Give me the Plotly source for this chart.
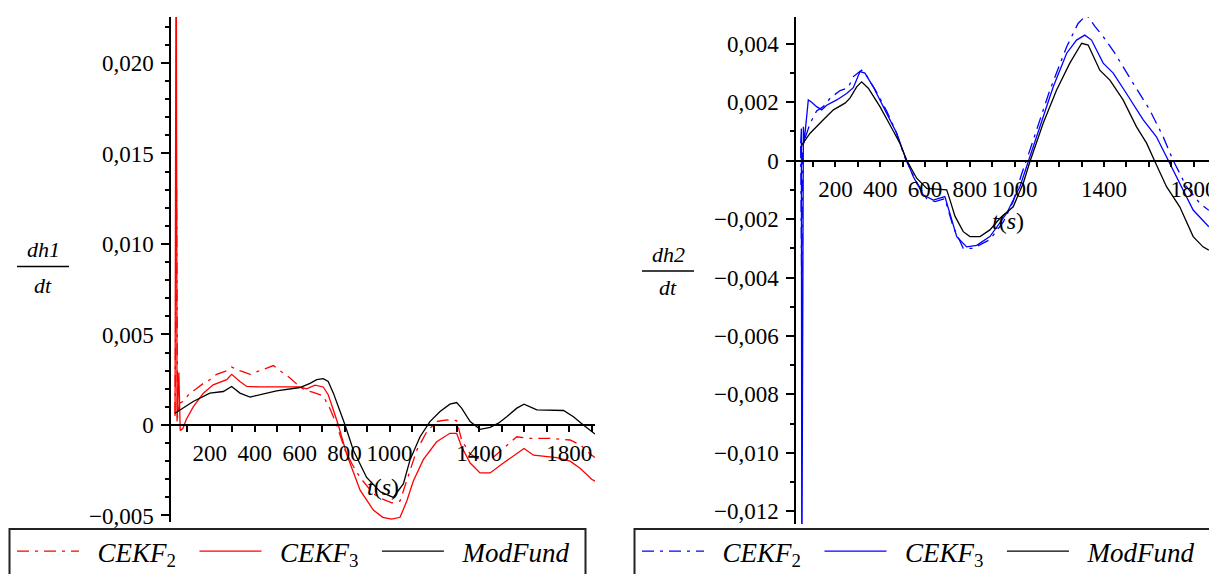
import plotly.graph_objects as go

W, H = 1209, 574

# ---------------- data: left panel (dh1/dt) ----------------
l_t_cekf2 = [45, 52, 56, 65, 80, 111, 140, 171, 200, 230, 275, 297, 334, 379, 423, 483, 512, 557, 601, 631,
             661, 705, 735, 765, 802, 835, 869, 900, 928, 970, 1010, 1047, 1077, 1121, 1166, 1210, 1255, 1299,
             1321, 1359, 1400, 1433, 1470, 1507, 1567, 1626, 1716, 1804, 1850, 1893, 1915]
l_v_cekf2 = [0.0006, 0.0130, 0.0004, 0.0012, 0.0013, 0.00176, 0.0020, 0.0023, 0.0025, 0.0028, 0.0030, 0.0032,
             0.0030, 0.0028, 0.0030, 0.00328, 0.0030, 0.0026, 0.0021, 0.0019, 0.0018, 0.0016, 0.0009, 0.0000,
             -0.0014, -0.0022, -0.0029, -0.0034, -0.0038, -0.0041, -0.0043, -0.0042, -0.0031, -0.0014, -0.00037,
             0.00019, 0.00028, 0.00024, -0.00083, -0.0016, -0.0019, -0.0020, -0.0017, -0.0013, -0.00065,
             -0.00074, -0.00074, -0.00083, -0.0011, -0.0016, -0.0018]

l_t_cekf3 = [45, 50, 54, 62, 68, 80, 95, 126, 171, 215, 275, 297, 334, 364, 420, 500, 601, 631, 668, 705, 727,
             750, 772, 809, 869, 928, 970, 1010, 1047, 1077, 1106, 1151, 1210, 1269, 1299, 1321, 1359, 1403,
             1448, 1507, 1567, 1599, 1641, 1745, 1804, 1850, 1900, 1915]
l_v_cekf3 = [0.0005, 0.0300, 0.0002, 0.0029, -0.0003, -0.0002, 0.0003, 0.0010, 0.00176, 0.00222, 0.0025,
             0.0028, 0.0024, 0.00213, 0.0021, 0.0021, 0.0021, 0.0020, 0.0022, 0.0021, 0.00167, 0.00083, 0.0,
             -0.0016, -0.0036, -0.0047, -0.0051, -0.0052, -0.0051, -0.0042, -0.0031, -0.0019, -0.00093,
             -0.00046, -0.00046, -0.0012, -0.0021, -0.00265, -0.00265, -0.0021, -0.0016, -0.0013, -0.00167,
             -0.0018, -0.0020, -0.0024, -0.0030, -0.0031]

l_t_mod = [45, 126, 200, 260, 297, 334, 379, 423, 497, 601, 646, 676, 705, 727, 750, 780, 802, 839, 898, 960,
           1017, 1062, 1091, 1136, 1180, 1225, 1269, 1299, 1321, 1359, 1403, 1448, 1485, 1522, 1567, 1599, 1656,
           1775, 1819, 1863, 1900, 1915]
l_v_mod = [0.00065, 0.0013, 0.00176, 0.00185, 0.00213, 0.00176, 0.00154, 0.00167, 0.00189, 0.00207, 0.0023,
           0.0025, 0.00256, 0.0024, 0.00176, 0.00074, 0.0, -0.0014, -0.0029, -0.0037, -0.0040, -0.00324,
           -0.00194, -0.00065, 0.00019, 0.00074, 0.00115, 0.00124, 0.00093, 0.00019, -0.00024, -0.00013,
           0.0001, 0.00046, 0.00093, 0.00115, 0.00083, 0.0008, 0.00046, 0.0, -0.00037, -0.0005]

# ---------------- data: right panel (dh2/dt) ----------------
r_t_cekf2 = [45, 50, 53, 57, 87, 116, 146, 176, 221, 257, 280, 317, 340, 380, 429, 470, 511, 560, 608, 645,
             689, 726, 771, 816, 890, 950, 994, 1030, 1069, 1110, 1158, 1233, 1284, 1322, 1359, 1396, 1448,
             1530, 1604, 1664, 1708, 1768, 1828, 1868]
r_v_cekf2 = [0.0005, -0.0049, 0.0003, 0.0006, 0.00128, 0.0017, 0.00185, 0.00214, 0.0024, 0.0025, 0.00288,
             0.0031, 0.0029, 0.0024, 0.0017, 0.0010, 0.0001, -0.0007, -0.0013, -0.0014, -0.0013, -0.00226,
             -0.0030, -0.0030, -0.0027, -0.0021, -0.0014, -0.0005, 0.00037, 0.0013, 0.00242, 0.0039, 0.0047,
             0.0050, 0.0046, 0.00425, 0.00368, 0.00265, 0.00174, 0.00082, 0.00002, -0.00089, -0.00146, -0.0017]

r_t_cekf3 = [45, 48, 50, 54, 57, 60, 79, 94, 116, 139, 161, 206, 250, 280, 310, 332, 369, 429, 474, 511, 548,
             592, 637, 689, 712, 742, 786, 831, 890, 965, 1024, 1069, 1113, 1173, 1233, 1277, 1314, 1344, 1396,
             1441, 1500, 1575, 1634, 1679, 1738, 1798, 1868]
r_v_cekf3 = [0.0006, 0.0011, -0.0150, 0.0004, 0.00116, 0.0006, 0.00208, 0.0020, 0.00185, 0.00174, 0.0019,
             0.00208, 0.0023, 0.0025, 0.00305, 0.0030, 0.00253, 0.00162, 0.00094, 0.00014, -0.00055, -0.00117,
             -0.00135, -0.00123, -0.0018, -0.0026, -0.00295, -0.0029, -0.0026, -0.0018, -0.00089, 0.00014,
             0.00116, 0.00253, 0.00368, 0.00413, 0.0043, 0.00413, 0.00334, 0.0030, 0.0023, 0.0014, 0.00082,
             0.00014, -0.00077, -0.00169, -0.00226]

r_t_mod = [50, 87, 146, 191, 243, 265, 295, 317, 347, 399, 444, 488, 518, 563, 608, 697, 712, 734, 771, 801,
           846, 890, 935, 994, 1039, 1069, 1128, 1188, 1247, 1300, 1329, 1381, 1426, 1485, 1545, 1590, 1627,
           1679, 1738, 1798, 1842, 1868]
r_v_mod = [0.00054, 0.00094, 0.0014, 0.00174, 0.00197, 0.00214, 0.00253, 0.0027, 0.00248, 0.00185, 0.00122,
           0.0006, 0.00002, -0.0006, -0.00095, -0.0010, -0.00135, -0.0019, -0.00243, -0.0026, -0.0026,
           -0.00237, -0.00197, -0.00158, -0.00077, -0.00003, 0.00128, 0.00242, 0.00334, 0.00402, 0.00396,
           0.0031, 0.00276, 0.00208, 0.00116, 0.0006, -0.00003, -0.00089, -0.00158, -0.0026, -0.00295, -0.00306]

# ---------------- ticks / labels ----------------
x_tick_vals = list(range(100, 2000, 100))
x_labeled = [200, 400, 600, 800, 1000, 1400, 1800]
l_y_major = [-0.005, 0.0, 0.005, 0.010, 0.015, 0.020]
r_y_major = [-0.012, -0.010, -0.008, -0.006, -0.004, -0.002, 0.0, 0.002, 0.004]
l_y_minor = [i / 1000 for i in range(-5, 23)]
r_y_minor = [i / 1000 for i in range(-12, 5)]
NB = "\u00a0"
series_names = [NB * 2 + "<i>CEKF</i><sub>2</sub>" + NB * 2,
                NB * 2 + "<i>CEKF</i><sub>3</sub>" + NB * 2,
                NB * 2 + "<i>ModFund</i>"]


def ylab(v):
    if abs(v) < 1e-12:
        return "0"
    s = f"{abs(v):.3f}".replace(".", ",")
    return ("\u2212" if v < 0 else "") + s


def px_x(p):
    return p / W


def px_y(p):
    return (H - p) / H


SERIF = "Liberation Serif"
TICKFONT = dict(family=SERIF, size=23, color="black")

# geometry
l_dom_x = [px_x(171), px_x(595)]
l_dom_y = [px_y(522), px_y(17)]
l_rng_x = [27, 1915]
l_rng_y = [-0.00536, 0.02254]

r_dom_x = [px_x(796), 1.0]
r_dom_y = [px_y(524), px_y(17)]
r_rng_x = [24, 1868.7]
r_rng_y = [-0.01244, 0.00492]


def zero_pos(dom, rng):
    return dom[0] + (0 - rng[0]) / (rng[1] - rng[0]) * (dom[1] - dom[0])


fig = go.Figure()

DASHDOT = "12px,6px,3px,6px"
specs = [
    ("x", "y", "legend", "red",
     [(l_t_cekf2, l_v_cekf2, DASHDOT), (l_t_cekf3, l_v_cekf3, "solid"), (l_t_mod, l_v_mod, "solid")]),
    ("x2", "y2", "legend2", "blue",
     [(r_t_cekf2, r_v_cekf2, DASHDOT), (r_t_cekf3, r_v_cekf3, "solid"), (r_t_mod, r_v_mod, "solid")]),
]
for xa, ya, lg, col, series in specs:
    for i, (tt, vv, dash) in enumerate(series):
        c = "black" if i == 2 else col
        fig.add_trace(go.Scatter(x=tt, y=vv, mode="lines", name=series_names[i],
                                 line=dict(color=c, width=1.3, dash=dash),
                                 xaxis=xa, yaxis=ya, legend=lg, hoverinfo="skip"))

x_text = [str(v) if v in x_labeled else "" for v in x_tick_vals]

common_x = dict(tickmode="array", tickvals=x_tick_vals, ticktext=x_text, ticks="outside", ticklen=6,
                tickwidth=1.5, tickcolor="black", showline=True, linecolor="black", linewidth=1.5,
                showgrid=False, zeroline=False, tickfont=TICKFONT, anchor="free", ticklabelstandoff=2,
                ticklabeloverflow="allow")


def y_axis(dom, rng, major, minor, anchor):
    return dict(domain=dom, range=rng, tickmode="array", tickvals=major, ticktext=[ylab(v) for v in major],
                ticks="outside", ticklen=8, tickwidth=1.5, tickcolor="black", showline=True,
                linecolor="black", linewidth=1.5, showgrid=False, zeroline=False, tickfont=TICKFONT,
                anchor=anchor, ticklabelstandoff=3,
                minor=dict(tickmode="array", tickvals=minor, ticks="outside", ticklen=4, tickwidth=1.5,
                           tickcolor="black", showgrid=False))


legend_common = dict(orientation="h", xanchor="left", yanchor="top", itemwidth=62,
                     font=dict(family=SERIF, size=27, color="black"), bgcolor="rgba(0,0,0,0)", borderwidth=0,
                     traceorder="normal", itemclick=False, itemdoubleclick=False)

fig.update_layout(
    width=W, height=H, paper_bgcolor="white", plot_bgcolor="white",
    margin=dict(l=0, r=0, t=0, b=0, autoexpand=False),
    showlegend=True,
    xaxis=dict(domain=l_dom_x, range=l_rng_x, position=zero_pos(l_dom_y, l_rng_y), **common_x),
    yaxis=y_axis(l_dom_y, l_rng_y, l_y_major, l_y_minor, "x"),
    xaxis2=dict(domain=r_dom_x, range=r_rng_x, position=zero_pos(r_dom_y, r_rng_y), **common_x),
    yaxis2=y_axis(r_dom_y, r_rng_y, r_y_major, r_y_minor, "x2"),
    legend=dict(x=px_x(12), y=px_y(527), **legend_common),
    legend2=dict(x=px_x(637), y=px_y(527), **legend_common),
)

# legend frames
for x0, x1 in [(9.5, 585.5), (634.5, 1240)]:
    fig.add_shape(type="rect", xref="paper", yref="paper", x0=px_x(x0), x1=px_x(x1), y0=px_y(600),
                  y1=px_y(529), line=dict(color="#222", width=2), fillcolor="rgba(0,0,0,0)", layer="above")

# y-axis fraction labels
for cx, top, line_y, bot, num, half in [(43, 250, 266.5, 285, "dh1", 26), (668, 254, 271, 287, "dh2", 26)]:
    fig.add_annotation(x=px_x(cx), y=px_y(top), xref="paper", yref="paper", text=f"<i>{num}</i>",
                       xanchor="center", yanchor="middle",
                       showarrow=False, font=dict(family=SERIF, size=22, color="black"))
    fig.add_annotation(x=px_x(cx), y=px_y(bot), xref="paper", yref="paper", text="<i>dt</i>",
                       xanchor="center", yanchor="middle",
                       showarrow=False, font=dict(family=SERIF, size=22, color="black"))
    fig.add_shape(type="line", xref="paper", yref="paper", x0=px_x(cx - half), x1=px_x(cx + half),
                  y0=px_y(line_y), y1=px_y(line_y), line=dict(color="black", width=1.5))

# t(s) axis titles
for cx, cy in [(383, 487), (1008, 221)]:
    fig.add_annotation(x=px_x(cx), y=px_y(cy), xref="paper", yref="paper", text="<i>t</i>(<i>s</i>)",
                       xanchor="center", yanchor="middle",
                       showarrow=False, font=dict(family=SERIF, size=24, color="black"))

fig.write_html("out.html", post_script="document.body.style.margin='0px';",
               config={"displayModeBar": False})
